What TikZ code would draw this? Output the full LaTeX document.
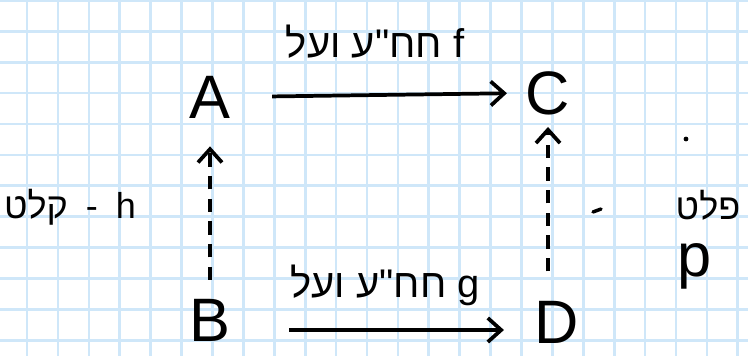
\documentclass[tikz,border=0pt]{standalone}
\usepackage{fontspec}
\setmainfont{Liberation Sans}
\newfontfamily\hebfont[Script=Hebrew]{Liberation Sans}
\TeXXeTstate=1
\definecolor{GridBlue}{HTML}{CFE7F9}
\usetikzlibrary{arrows.meta}

\begin{document}
\begin{tikzpicture}[x=0.75pt, y=-0.75pt,
    corner/.style={inner sep=0pt, font=\fontsize{46}{46}\selectfont},
    maparrow/.style={line width=2.8pt, -{Straight Barb[length=10pt, width=18pt, line width=2.8pt]}},
    liftarrow/.style={maparrow, dash pattern=on 10pt off 7pt},
    maplabel/.style={inner sep=0pt, font=\hebfont\fontsize{30}{30}\selectfont},
    sidelabel/.style={inner sep=0pt, font=\hebfont\fontsize{27}{27}\selectfont}]

  \useasboundingbox (0,0) rectangle (748,356);
  \fill[white] (0,0) rectangle (748,356);
  % squared paper
  \foreach \k in {0,...,23}
    \draw[GridBlue, line width=2pt] (27.1+30.9*\k,0) -- (27.1+30.9*\k,356);
  \foreach \k in {0,...,11}
    \draw[GridBlue, line width=2pt] (0,0.4+30.9*\k) -- (748,0.4+30.9*\k);

  \node[corner] (A) at (210,97) {A};
  \node[corner] (C) at (548,93) {C};
  \node[corner] (B) at (210,320) {B};
  \node[corner] (D) at (557,322) {D};

  \node[maplabel] (fLabel) at (375,42) {\beginR\beginL f\endL{} חח"ע ועל\endR};
  \node[maplabel] (gLabel) at (385,285) {\beginR\beginL g\endL{} חח"ע ועל\endR};
  \node[sidelabel] (hLabel) at (70,207) {\beginR\beginL h\endL\hspace{0.5em}-\hspace{0.5em}קלט\endR};
  \node[sidelabel] (pText) at (708,205) {\beginR פלט\endR};
  \node[corner] (pLabel) at (695,266) {p};

  \draw[maparrow, shorten <=31pt, shorten >=14pt] (A.east) -- (C.west);
  \draw[maparrow, shorten <=44pt, shorten >=23pt] ([yshift=-6]B.east |- D.west) -- ([yshift=-6]D.west);
  \draw[liftarrow, shorten <=14pt, shorten >=21pt] (B.north) -- (A.south);
  \draw[liftarrow, shorten <=22pt, shorten >=9pt] (D.north -| C.south) -- (C.south);

  \fill (686,139) circle (2.4);
  \draw[line width=2.6pt, line cap=round] (593,212) -- (601,209);
\end{tikzpicture}
\end{document}
